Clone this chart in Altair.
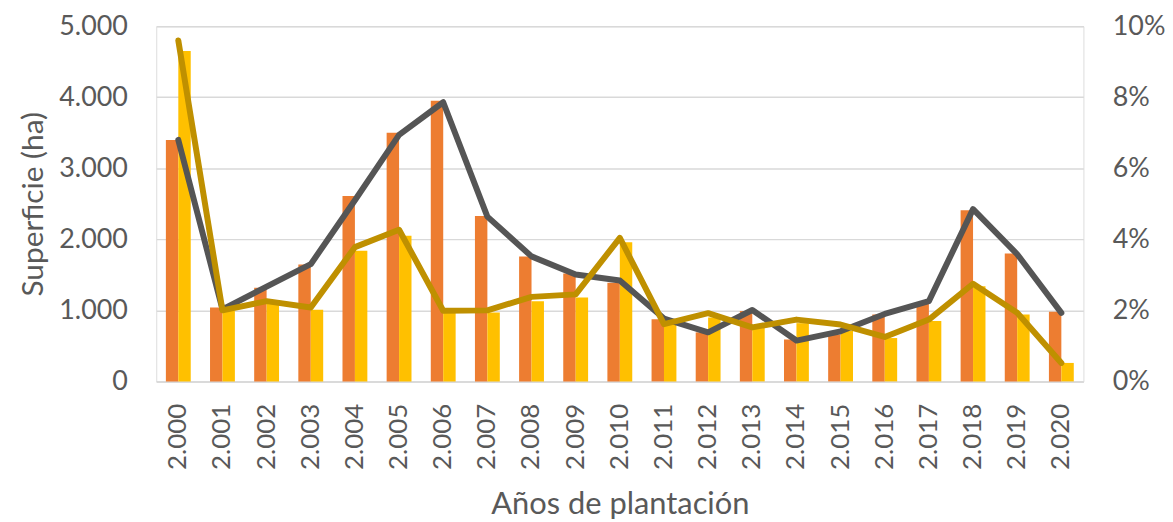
import altair as alt
import pandas as pd

years = ["2.000", "2.001", "2.002", "2.003", "2.004", "2.005", "2.006", "2.007", "2.008", "2.009",
         "2.010", "2.011", "2.012", "2.013", "2.014", "2.015", "2.016", "2.017", "2.018", "2.019", "2.020"]
bar_orange = [3400, 1040, 1320, 1645, 2610, 3500, 3950, 2330, 1760, 1520,
              1390, 875, 690, 990, 590, 660, 940, 1100, 2410, 1800, 980]
bar_yellow = [4650, 990, 1090, 1010, 1840, 2050, 1000, 970, 1130, 1180,
              1960, 800, 900, 760, 820, 710, 610, 850, 1340, 940, 260]
line_gray = [0.068, 0.0203, 0.0267, 0.033, 0.051, 0.0694, 0.0786, 0.0464, 0.0352, 0.0301,
             0.0284, 0.0177, 0.0138, 0.0201, 0.0115, 0.0141, 0.019, 0.0226, 0.0485, 0.0358, 0.0193]
line_olive = [0.096, 0.020, 0.0226, 0.0208, 0.0378, 0.0427, 0.0199, 0.020, 0.0238, 0.0245,
              0.0404, 0.0161, 0.0192, 0.0152, 0.0174, 0.016, 0.0125, 0.0174, 0.0275, 0.0193, 0.0052]

bars = pd.DataFrame({
    "year": years * 2,
    "serie": ["a"] * len(years) + ["b"] * len(years),
    "value": bar_orange + bar_yellow,
})
lines = pd.DataFrame({
    "year": years * 2,
    "serie": ["g"] * len(years) + ["o"] * len(years),
    "pct": line_gray + line_olive,
})

FONT = "Lato"
GRAY = "#595959"

x = alt.X("year:N", sort=years,
          scale=alt.Scale(paddingInner=0.437, paddingOuter=0.2185),
          axis=alt.Axis(title="Años de plantación", labelAngle=-90, labelFontSize=26,
                        labelFont=FONT, labelColor=GRAY, titleFont=FONT, titleFontSize=31,
                        titleColor=GRAY, titleFontWeight="normal", ticks=False,
                        domainColor="#D9D9D9", domainWidth=1.5, labelPadding=22,
                        titlePadding=20, labelBaseline="middle"))

bar_layer = alt.Chart(bars).mark_bar().encode(
    x=x,
    xOffset=alt.XOffset("serie:N", scale=alt.Scale(paddingInner=0, paddingOuter=0)),
    y=alt.Y("value:Q", scale=alt.Scale(domain=[0, 5000]),
            axis=alt.Axis(title="Superficie (ha)", values=[0, 1000, 2000, 3000, 4000, 5000],
                          labelExpr="replace(format(datum.value, ','), ',', '.')",
                          labelFontSize=27, labelFont=FONT, labelColor=GRAY,
                          titleFont=FONT, titleFontSize=30, titleColor=GRAY,
                          titleFontWeight="normal", ticks=False, domain=False,
                          grid=True, gridColor="#D9D9D9", gridWidth=1.5,
                          labelPadding=29, titlePadding=10)),
    color=alt.Color("serie:N", scale=alt.Scale(domain=["a", "b"], range=["#ED7D31", "#FFC000"]),
                    legend=None),
)

line_layer = alt.Chart(lines).mark_line(strokeWidth=6, strokeCap="round", strokeJoin="round").encode(
    x=x,
    y=alt.Y("pct:Q", scale=alt.Scale(domain=[0, 0.1]),
            axis=alt.Axis(title=None, orient="right", values=[0, 0.02, 0.04, 0.06, 0.08, 0.1],
                          format=".0%", labelFontSize=27, labelFont=FONT, labelColor=GRAY,
                          ticks=False, domain=False, grid=False, labelPadding=29)),
    color=alt.Color("serie:N", scale=alt.Scale(domain=["g", "o"], range=["#555555", "#BF9000"]),
                    legend=None),
)

chart = alt.layer(bar_layer, line_layer).resolve_scale(
    y="independent", color="independent"
).properties(
    width=932, height=357,
    autosize=alt.AutoSizeParams(type="none"),
    padding={"left": 149, "top": 17, "right": 82, "bottom": 138},
).configure_view(stroke=None).configure(background="white")

chart.save("out.html", embed_options={"renderer": "svg", "actions": False})
